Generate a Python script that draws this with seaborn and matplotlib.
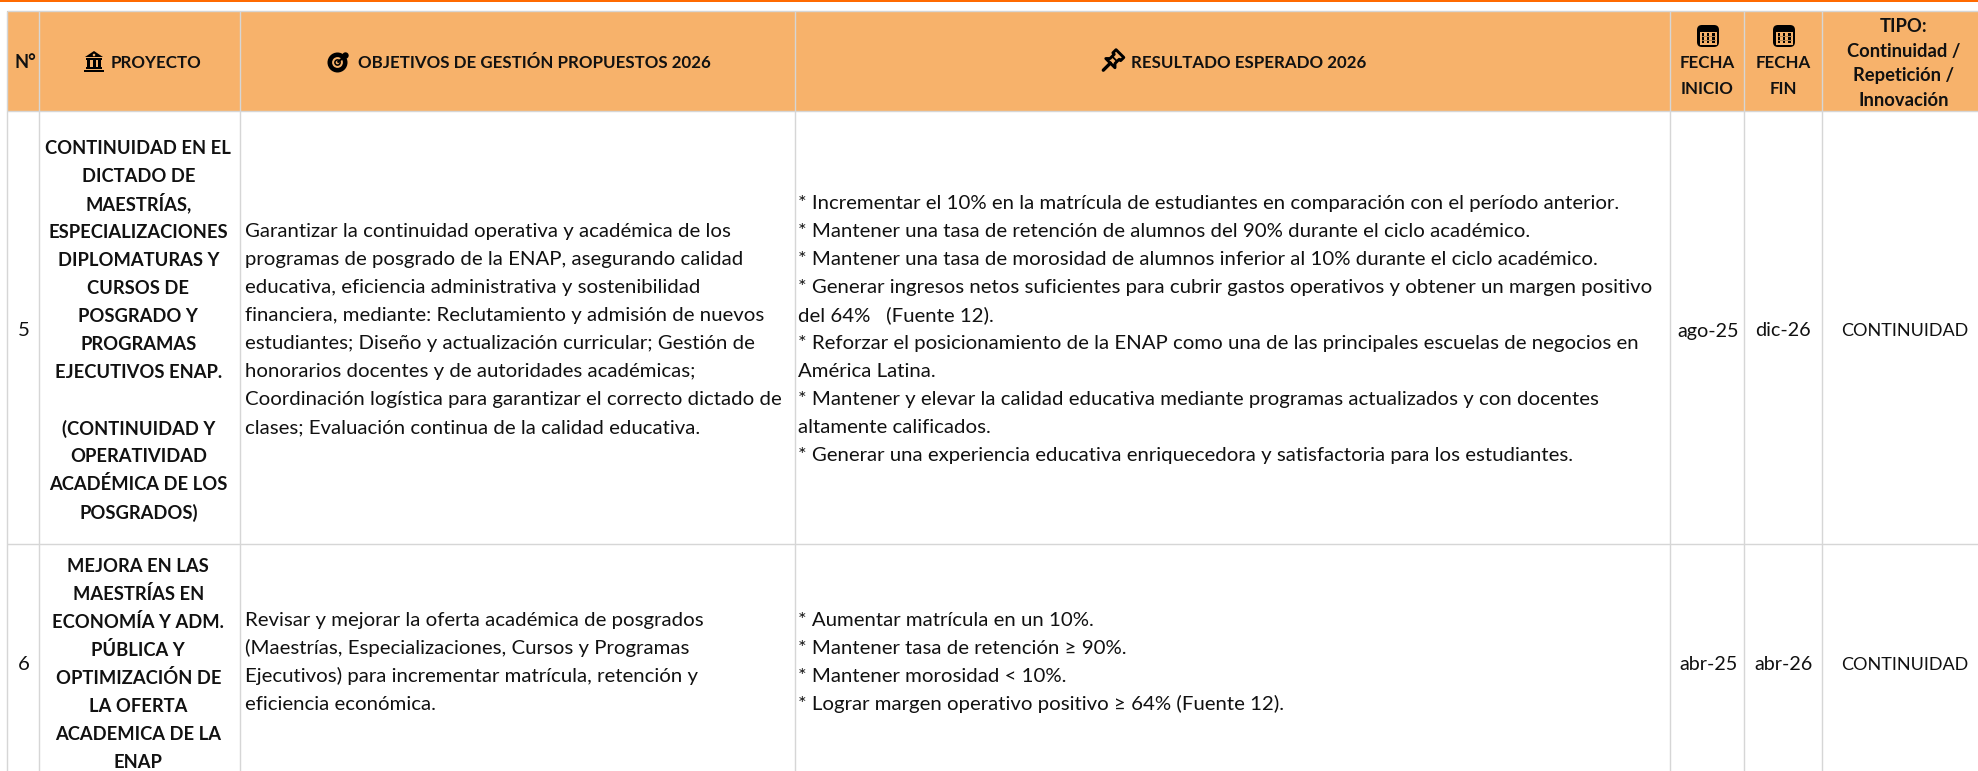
from __future__ import annotations

import matplotlib

matplotlib.use("Agg")
import matplotlib.colors as mcolors
import matplotlib.patches as mpatches
import matplotlib.pyplot as plt
import numpy as np
import pandas as pd
import seaborn as sns


FONT = ["Lato", "DejaVu Sans"]
TEXT_COLOR = "#111111"
GRID_COLOR = "#D6D6D6"
HEADER_COLOR = "#F7B26B"
TOP_LINE_COLOR = "#FF6A00"

# table content
header_simple = ["N°", "PROYECTO", "OBJETIVOS DE GESTIÓN PROPUESTOS 2026", "RESULTADO ESPERADO 2026"]
header_fecha_inicio = ["FECHA", "INICIO"]
header_fecha_fin = ["FECHA", "FIN"]
header_tipo = ["TIPO:", "Continuidad /", "Repetición /", "Innovación"]

row_numbers = ["5", "6"]
proyecto_5 = [
    "CONTINUIDAD EN EL", "DICTADO DE", "MAESTRÍAS,", "ESPECIALIZACIONES", "DIPLOMATURAS Y",
    "CURSOS DE", "POSGRADO Y", "PROGRAMAS", "EJECUTIVOS ENAP.", "",
    "(CONTINUIDAD Y", "OPERATIVIDAD", "ACADÉMICA DE LOS", "POSGRADOS)",
]
proyecto_6 = [
    "MEJORA EN LAS", "MAESTRÍAS EN", "ECONOMÍA Y ADM.", "PÚBLICA Y",
    "OPTIMIZACIÓN DE", "LA OFERTA", "ACADEMICA DE LA", "ENAP",
]
objetivos_5 = [
    "Garantizar la continuidad operativa y académica de los",
    "programas de posgrado de la ENAP, asegurando calidad",
    "educativa, eficiencia administrativa y sostenibilidad",
    "financiera, mediante: Reclutamiento y admisión de nuevos",
    "estudiantes; Diseño y actualización curricular; Gestión de",
    "honorarios docentes y de autoridades académicas;",
    "Coordinación logística para garantizar el correcto dictado de",
    "clases; Evaluación continua de la calidad educativa.",
]
objetivos_6 = [
    "Revisar y mejorar la oferta académica de posgrados",
    "(Maestrías, Especializaciones, Cursos y Programas",
    "Ejecutivos) para incrementar matrícula, retención y",
    "eficiencia económica.",
]
resultado_5 = [
    "* Incrementar el 10% en la matrícula de estudiantes en comparación con el período anterior.",
    "* Mantener una tasa de retención de alumnos del 90% durante el ciclo académico.",
    "* Mantener una tasa de morosidad de alumnos inferior al 10% durante el ciclo académico.",
    "* Generar ingresos netos suficientes para cubrir gastos operativos y obtener un margen positivo",
    "del 64%   (Fuente 12).",
    "* Reforzar el posicionamiento de la ENAP como una de las principales escuelas de negocios en",
    "América Latina.",
    "* Mantener y elevar la calidad educativa mediante programas actualizados y con docentes",
    "altamente calificados.",
    "* Generar una experiencia educativa enriquecedora y satisfactoria para los estudiantes.",
]
resultado_6 = [
    "* Aumentar matrícula en un 10%.",
    "* Mantener tasa de retención ≥ 90%.",
    "* Mantener morosidad < 10%.",
    "* Lograr margen operativo positivo ≥ 64% (Fuente 12).",
]
fecha_inicio = ["ago-25", "abr-25"]
fecha_fin = ["dic-26", "abr-26"]
tipo = ["CONTINUIDAD", "CONTINUIDAD"]

# layout, in pixels of the 1978x771 picture
W, H = 1978, 771
COL_EDGES = [6.5, 39, 240, 795, 1670, 1744, 1822]
ROW_EDGES = [10.5, 111, 544]
ROW_CENTERS = [330, 663]
LINE_PITCH = 28
BASELINE_DROP = 6.5
BODY_SIZE = 14.65
BOLD_SIZE = 13.2
HEADER_SIZE = 12.2


def draw_lines(ax, lines, x, y_center, pitch=LINE_PITCH, ha="left", size=BODY_SIZE, weight="normal"):
    first = y_center - pitch * (len(lines) - 1) / 2
    for i, line in enumerate(lines):
        ax.text(x, first + i * pitch + BASELINE_DROP, line, ha=ha, va="baseline", fontsize=size,
                fontweight=weight, color=TEXT_COLOR, family=FONT)


def draw_bank(ax, cx, cy):
    ax.add_patch(mpatches.Polygon([(cx - 9, cy - 4.5), (cx, cy - 10.5), (cx + 9, cy - 4.5)], fc="black", ec="none"))
    ax.add_patch(mpatches.Circle((cx, cy - 6.5), 1.3, fc=HEADER_COLOR, ec="none"))
    ax.add_patch(mpatches.Rectangle((cx - 8, cy - 3.5), 16, 2, fc="black", ec="none"))
    ax.add_patch(mpatches.Rectangle((cx - 8, cy + 5.5), 16, 2, fc="black", ec="none"))
    ax.add_patch(mpatches.Rectangle((cx - 10, cy + 8), 20, 2.5, fc="black", ec="none"))
    for dx in (-7, -1.5, 4):
        ax.add_patch(mpatches.Rectangle((cx + dx, cy - 1.5), 3, 7, fc="black", ec="none"))


def draw_target(ax, cx, cy):
    ax.add_patch(mpatches.Circle((cx, cy), 10, fc="black", ec="none"))
    ax.add_patch(mpatches.Circle((cx, cy), 5.4, fc=HEADER_COLOR, ec="none"))
    ax.add_patch(mpatches.Circle((cx, cy), 3.4, fc="black", ec="none"))
    ax.add_patch(mpatches.Circle((cx, cy), 1.8, fc=HEADER_COLOR, ec="none"))
    ax.add_patch(mpatches.Circle((cx + 8, cy - 7), 3.2, fc="black", ec="none"))
    ax.plot([cx, cx + 8], [cy, cy - 7], color="black", lw=1.5, solid_capstyle="butt")


def draw_pin(ax, cx, cy):
    # u runs along the pin to its head, v across it
    u = np.array([0.707, -0.707])
    v = np.array([0.707, 0.707])

    def local(points):
        return [(cx + a * u[0] + b * v[0], cy + a * u[1] + b * v[1]) for a, b in points]

    needle = local([(-13, 0), (-3, 0)])
    ax.plot(*zip(*needle), color="black", lw=2.4, solid_capstyle="round")
    outline = [(-3, -6.5), (-3, 6.5), (0, 3.5), (6, 3.5), (6, 5.5), (10.5, 5.5), (10.5, -5.5), (6, -5.5), (6, -3.5), (0, -3.5)]
    ax.add_patch(mpatches.Polygon(local(outline), fc=HEADER_COLOR, ec="black", lw=2.1, joinstyle="round"))
    ax.plot(*zip(*local([(3, -3.5), (3, 3.5)])), color="black", lw=1.3)


def draw_calendar(ax, cx, cy):
    ax.add_patch(mpatches.FancyBboxPatch((cx - 11, cy - 11), 22, 22, boxstyle="round,pad=0,rounding_size=5",
                                         fc="black", ec="none"))
    ax.add_patch(mpatches.Rectangle((cx - 8.5, cy - 4.5), 17, 13, fc=HEADER_COLOR, ec="none"))
    for dx in (-6.5, -1.3, 3.9):
        ax.add_patch(mpatches.Rectangle((cx + dx, cy - 3), 2.6, 10, fc="black", ec="none"))
    for dy in (0, 3.5):
        ax.plot([cx - 6.5, cx + 6.5], [cy + dy, cy + dy], color="#B98A55", lw=0.7)


sns.set_theme(style="white")

# one cell per pixel so the heatmap can carry the uneven column and row sizes
bands = np.repeat([2, 0, 1, 0], [2, 9, 100, H - 111])
fill = np.tile(bands[:, None], (1, W))
fill[11:111, :7] = 0
df = pd.DataFrame(fill)

fig = plt.figure(figsize=(W / 100, H / 100), dpi=100, facecolor="white")
ax = fig.add_axes([0, 0, 1, 1])
sns.heatmap(
    df,
    cmap=mcolors.ListedColormap(["#FFFFFF", HEADER_COLOR, TOP_LINE_COLOR]),
    vmin=0,
    vmax=2,
    cbar=False,
    xticklabels=False,
    yticklabels=False,
    ax=ax,
)
ax.set_xlabel("")
ax.set_ylabel("")

for x in COL_EDGES:
    ax.vlines(x, ROW_EDGES[0], H, color=GRID_COLOR, lw=1)
for y in ROW_EDGES:
    ax.hlines(y, COL_EDGES[0], W, color=GRID_COLOR, lw=1)

# header
draw_lines(ax, [header_simple[0]], 25, 61.5, ha="center", size=BOLD_SIZE, weight="bold")
draw_lines(ax, [header_simple[1]], 155.5, 61.5, ha="center", size=HEADER_SIZE, weight="bold")
draw_lines(ax, [header_simple[2]], 534, 61.5, ha="center", size=HEADER_SIZE, weight="bold")
draw_lines(ax, [header_simple[3]], 1249, 61.5, ha="center", size=HEADER_SIZE, weight="bold")
draw_lines(ax, header_fecha_inicio, 1707.5, 74.5, pitch=25, ha="center", size=HEADER_SIZE, weight="bold")
draw_lines(ax, header_fecha_fin, 1783, 74.5, pitch=25, ha="center", size=HEADER_SIZE, weight="bold")
draw_lines(ax, header_tipo, 1904, 62.5, pitch=25, ha="center", size=BOLD_SIZE, weight="bold")

draw_bank(ax, 94, 61.5)
draw_target(ax, 337.5, 62.5)
draw_pin(ax, 1112.5, 61)
draw_calendar(ax, 1708, 36)
draw_calendar(ax, 1784, 36)

# body rows
proyectos = [proyecto_5, proyecto_6]
objetivos = [objetivos_5, objetivos_6]
resultados = [resultado_5, resultado_6]
for i, yc in enumerate(ROW_CENTERS):
    draw_lines(ax, [row_numbers[i]], 24, yc, ha="center")
    draw_lines(ax, proyectos[i], 138.3, yc, ha="center", size=BOLD_SIZE, weight="bold")
    draw_lines(ax, objetivos[i], 245, yc - 1.5)
    draw_lines(ax, resultados[i], 798.5, yc - 1.5)
    draw_lines(ax, [fecha_inicio[i]], 1708, yc, ha="center", size=14.2)
    draw_lines(ax, [fecha_fin[i]], 1783.3, yc, ha="center", size=14.2)
    draw_lines(ax, [tipo[i]], 1904.5, yc, ha="center", size=13)

fig.savefig("out.png", dpi=100)
plt.close(fig)
